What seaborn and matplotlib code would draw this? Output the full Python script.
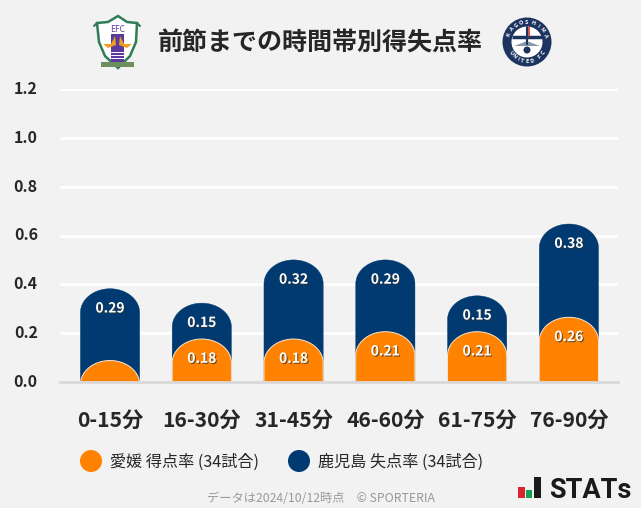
import matplotlib
matplotlib.use('Agg')
import matplotlib.pyplot as plt
import matplotlib.patheffects as pe
from matplotlib.patches import Circle, PathPatch, Polygon, Rectangle
from matplotlib.path import Path
from matplotlib.transforms import ScaledTranslation
import numpy as np
import pandas as pd
import seaborn as sns

periods = ['0-15分', '16-30分', '31-45分', '46-60分', '61-75分', '76-90分']
ehime_rate = [0.088, 0.176, 0.176, 0.206, 0.206, 0.265]
kagoshima_rate = [0.294, 0.147, 0.324, 0.294, 0.147, 0.382]
ehime_labels = ['', '0.18', '0.18', '0.21', '0.21', '0.26']
kagoshima_labels = ['0.29', '0.15', '0.32', '0.29', '0.15', '0.38']
y_ticks = [0.0, 0.2, 0.4, 0.6, 0.8, 1.0, 1.2]

ORANGE = '#ff8300'
NAVY = '#003a70'
BG = '#f2f2f2'
INK = '#262626'
W, H = 641, 508

sns.set_theme(style='white')
plt.rcParams['font.family'] = ['Noto Sans CJK JP', 'DejaVu Sans']


def px_axes(fig, x0, y0, x1, y1):
	# axes placed by pixel box, y measured from the top of the image
	return fig.add_axes([x0 / W, 1 - y1 / H, (x1 - x0) / W, (y1 - y0) / H])


def dome_bars(ax, bars, edge, lw):
	# swap the square bars for ones with an elliptical top
	for bar in list(bars):
		x0, w = bar.get_x(), bar.get_width()
		top, base = bar.get_height(), 0
		ry = 0.098
		n = np.linspace(np.pi, 0, 60)
		xs = x0 + w / 2 + w / 2 * np.cos(n)
		ys = top - ry + ry * np.sin(n)
		keep = ys >= base
		verts = [(xs[keep][0], base)] + list(zip(xs[keep], ys[keep])) + [(xs[keep][-1], base)]
		ax.add_patch(PathPatch(Path(verts), facecolor=bar.get_facecolor(), edgecolor=edge,
			linewidth=lw, zorder=bar.get_zorder()))
		bar.remove()


def draw_ehime(fig):
	ax = px_axes(fig, 88, 10, 148, 74)
	ax.set_xlim(88, 148)
	ax.set_ylim(74, 10)
	ax.axis('off')
	green = '#2f7d57'
	purple = '#5b3a9e'
	ax.add_patch(Polygon([(97, 23), (108, 22), (118, 16), (127, 22), (137, 23), (136, 42), (130, 56), (118, 68), (105, 56), (99, 42)],
		facecolor='white', edgecolor=green, linewidth=1.8))
	ax.plot([94, 97, 100], [26, 23, 23], color=green, lw=1.5)
	ax.plot([140, 137, 134], [26, 23, 23], color=green, lw=1.5)
	ax.add_patch(Rectangle((111, 23), 13, 39, facecolor=purple, edgecolor='none'))
	ax.add_patch(Rectangle((111, 23), 13, 11, facecolor='white', edgecolor='none'))
	ax.text(117.5, 29, 'EFC', color=purple, fontsize=6, ha='center', va='center')
	ax.add_patch(Polygon([(103, 44), (111, 44), (115, 36), (116, 45), (108, 48)], facecolor='#f0a020', edgecolor='none'))
	ax.add_patch(Polygon([(132, 44), (124, 44), (120, 36), (119, 45), (127, 48)], facecolor='#f0a020', edgecolor='none'))
	for y in (52, 55, 58):
		ax.plot([111, 124], [y, y], color='white', lw=0.7)
	ax.add_patch(Rectangle((101, 62), 33, 4.5, facecolor='#6d8f5e', edgecolor='none'))


def draw_kagoshima(fig):
	ax = px_axes(fig, 497, 12, 557, 72)
	ax.set_xlim(497, 557)
	ax.set_ylim(72, 12)
	ax.axis('off')
	ax.add_patch(Circle((527, 42), 24.5, facecolor='#1d3461', edgecolor='none'))
	ax.add_patch(Circle((527, 42), 15.5, facecolor='white', edgecolor='none'))
	ax.plot([512, 542], [37, 37], color='#1d3461', lw=2.5, solid_capstyle='butt')
	ax.plot([527, 527], [27, 44], color='#1d3461', lw=1.5)
	ax.plot([529, 529], [27, 36], color='#d8342c', lw=1.2)
	ax.add_patch(Polygon([(514, 46), (522, 43), (527, 41), (532, 43), (540, 46)], facecolor='#8a98ad', edgecolor='none'))
	ax.add_patch(Circle((527, 50), 3.5, facecolor='#1d3461', edgecolor='none'))
	for i, ch in enumerate('KAGOSHIMA'):
		a = np.deg2rad(-68 + i * 17)
		ax.text(527 + 19.5 * np.sin(a), 42 - 19.5 * np.cos(a), ch, color='white', fontsize=4,
			fontweight='bold', ha='center', va='center', rotation=-np.rad2deg(a))
	for i, ch in enumerate('UNITED FC'):
		a = np.deg2rad(-56 + i * 14)
		ax.text(527 + 19.5 * np.sin(a), 42 + 19.5 * np.cos(a), ch, color='white', fontsize=4,
			fontweight='bold', ha='center', va='center', rotation=np.rad2deg(a))


def draw_footer(fig):
	ax = px_axes(fig, 0, 0, W, H)
	ax.set_xlim(0, W)
	ax.set_ylim(H, 0)
	ax.axis('off')
	ax.patch.set_alpha(0)
	ax.add_patch(Circle((91, 461), 11, facecolor=ORANGE, edgecolor='none'))
	ax.add_patch(Circle((299, 461), 11, facecolor=NAVY, edgecolor='none'))
	ax.text(110, 462, '愛媛 得点率 (34試合)', fontsize=11.6, color=INK, va='center')
	ax.text(318, 462, '鹿児島 失点率 (34試合)', fontsize=11.6, color=INK, va='center')
	ax.text(320.5, 498.5, 'データは2024/10/12時点　© SPORTERIA', fontsize=8.8, color='#999999', ha='center', va='center')
	ax.add_patch(Rectangle((518, 487), 7, 10.5, facecolor='#d8242c', edgecolor='none'))
	ax.add_patch(Rectangle((526, 490), 5.5, 7.5, facecolor='#12a150', edgecolor='none'))
	ax.add_patch(Rectangle((534, 477), 7, 21, facecolor='#1a1a1a', edgecolor='none'))
	ax.text(549, 497.5, 'STATs', fontsize=19.5, fontweight='bold', color='#1a1a1a', va='baseline',
		family=['Roboto', 'DejaVu Sans'])


def plot_chart():
	fig = plt.figure(figsize=(W / 100, H / 100), dpi=100, facecolor=BG)
	ax = px_axes(fig, 60, 89, 618, 382)
	ax.set_facecolor(BG)

	df = pd.DataFrame({'period': periods, 'ehime': ehime_rate, 'kagoshima': kagoshima_rate})
	df['total'] = df['ehime'] + df['kagoshima']

	sns.barplot(data=df, x='period', y='total', color=NAVY, saturation=1, width=0.645, ax=ax, zorder=3)
	navy_bars = list(ax.patches)
	sns.barplot(data=df, x='period', y='ehime', color=ORANGE, saturation=1, width=0.645, ax=ax, zorder=4)
	orange_bars = [b for b in ax.patches if b not in navy_bars]
	dome_bars(ax, navy_bars, NAVY, 0.3)
	dome_bars(ax, orange_bars, '#f6e6d2', 0.7)

	halo = [pe.withSimplePatchShadow(offset=(0.8, -0.8), shadow_rgbFace='#333333', alpha=0.7)]
	for i in range(len(periods)):
		ax.text(i, df['total'][i] - 0.081, kagoshima_labels[i], color='white', fontsize=10, fontweight='bold',
			ha='center', va='center', zorder=6, path_effects=halo)
		if ehime_labels[i]:
			ax.text(i, df['ehime'][i] - 0.081, ehime_labels[i], color='white', fontsize=10, fontweight='bold',
				ha='center', va='center', zorder=6, path_effects=halo)

	# bars sit at 110..569 px while the plot box runs 60..618
	ax.set_xlim(-0.545, 5.535)
	ax.set_ylim(0, 1.2)
	ax.set_yticks(y_ticks)
	ax.set_yticklabels([f'{v:.1f}' for v in y_ticks], fontsize=11.5, fontweight='bold', color=INK)
	ax.tick_params(axis='y', length=0, pad=16)
	ax.tick_params(axis='x', length=0, pad=20)
	ax.set_xticks(range(len(periods)))
	ax.set_xticklabels(periods, fontsize=15.2, fontweight='bold', color=INK)
	ax.set_xlabel('')
	ax.set_ylabel('')
	ax.grid(axis='y', color='white', linewidth=2, zorder=0)
	ax.set_axisbelow(True)
	sns.despine(ax=ax, left=True, top=True, right=True)
	ax.spines['bottom'].set_color('#d9d9d9')
	ax.spines['bottom'].set_linewidth(2)
	ax.spines['bottom'].set_zorder(5)
	# nudge the y labels up a little, this font sits low
	nudge = ScaledTranslation(0, 1.5 / 100, fig.dpi_scale_trans)
	for label in ax.get_yticklabels():
		label.set_transform(label.get_transform() + nudge)

	fig.text(320.5 / W, 1 - 43.5 / H, '前節までの時間帯別得失点率', fontsize=18, fontweight='bold',
		color=INK, ha='center', va='center')
	draw_ehime(fig)
	draw_kagoshima(fig)
	draw_footer(fig)

	fig.savefig('out.png', dpi=100, facecolor=BG)


if __name__ == '__main__':
	plot_chart()
